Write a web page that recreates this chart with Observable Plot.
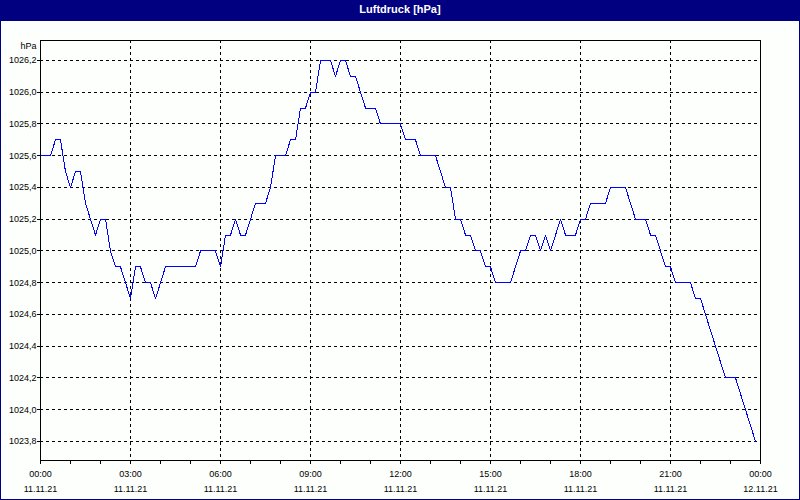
<!DOCTYPE html>
<html>
<head>
<meta charset="utf-8">
<script src="https://cdn.jsdelivr.net/npm/d3@7"></script>
<script src="https://cdn.jsdelivr.net/npm/@observablehq/plot@0.6"></script>
<style>
  html, body { margin: 0; padding: 0; background: #fcfffc; }
  #wrap { position: relative; width: 800px; height: 500px; background: #fcfffc; overflow: hidden; }
  #title { position: absolute; left: 0; top: 0; width: 800px; height: 21px; background: #000080;
           color: #fff; font: bold 11px "Liberation Sans", Arial, sans-serif; text-align: center; line-height: 19px; }
  #chart { position: absolute; left: 0; top: 20px; }
  #border { position: absolute; left: 0; top: 0; width: 800px; height: 500px; box-sizing: border-box;
            border: 1px solid #000080; pointer-events: none; }
</style>
</head>
<body>
<div id="wrap">
  <div id="title">Luftdruck [hPa]</div>
  <div id="chart"></div>
  <div id="border"></div>
</div>
<script>
// ---- data (10-minute readings, 11.11.21 00:00 – 23:50) ----
const startTime = "2021-11-11T00:00:00Z";
const stepMinutes = 10;
const pressure = [
  1025.6, 1025.6, 1025.6, 1025.7, 1025.7, 1025.5, 1025.4, 1025.5, 1025.5, 1025.3, 1025.2, 1025.1,
  1025.2, 1025.2, 1025.0, 1024.9, 1024.9, 1024.8, 1024.7, 1024.9, 1024.9, 1024.8, 1024.8, 1024.7,
  1024.8, 1024.9, 1024.9, 1024.9, 1024.9, 1024.9, 1024.9, 1024.9, 1025.0, 1025.0, 1025.0, 1025.0,
  1024.9, 1025.1, 1025.1, 1025.2, 1025.1, 1025.1, 1025.2, 1025.3, 1025.3, 1025.3, 1025.4, 1025.6,
  1025.6, 1025.6, 1025.7, 1025.7, 1025.9, 1025.9, 1026.0, 1026.0, 1026.2, 1026.2, 1026.2, 1026.1,
  1026.2, 1026.2, 1026.1, 1026.1, 1026.0, 1025.9, 1025.9, 1025.9, 1025.8, 1025.8, 1025.8, 1025.8,
  1025.8, 1025.7, 1025.7, 1025.7, 1025.6, 1025.6, 1025.6, 1025.6, 1025.5, 1025.4, 1025.4, 1025.2,
  1025.2, 1025.1, 1025.1, 1025.0, 1025.0, 1024.9, 1024.9, 1024.8, 1024.8, 1024.8, 1024.8, 1024.9,
  1025.0, 1025.0, 1025.1, 1025.1, 1025.0, 1025.1, 1025.0, 1025.1, 1025.2, 1025.1, 1025.1, 1025.1,
  1025.2, 1025.2, 1025.3, 1025.3, 1025.3, 1025.3, 1025.4, 1025.4, 1025.4, 1025.4, 1025.3, 1025.2,
  1025.2, 1025.2, 1025.1, 1025.1, 1025.0, 1024.9, 1024.9, 1024.8, 1024.8, 1024.8, 1024.8, 1024.7,
  1024.7, 1024.6, 1024.5, 1024.4, 1024.3, 1024.2, 1024.2, 1024.2, 1024.1, 1024.0, 1023.9, 1023.8
];
const yTickValues = [1023.8, 1024.0, 1024.2, 1024.4, 1024.6, 1024.8, 1025.0, 1025.2, 1025.4, 1025.6, 1025.8, 1026.0, 1026.2];
const xDomain = ["2021-11-11T00:00:00Z", "2021-11-12T00:00:00Z"];
const xMajorTicks = ["2021-11-11T00:00:00Z", "2021-11-11T03:00:00Z", "2021-11-11T06:00:00Z", "2021-11-11T09:00:00Z",
  "2021-11-11T12:00:00Z", "2021-11-11T15:00:00Z", "2021-11-11T18:00:00Z", "2021-11-11T21:00:00Z", "2021-11-12T00:00:00Z"];
const yUnit = "hPa";

// ---- build ----
const t0 = new Date(startTime);
const data = pressure.map((v, i) => ({ time: new Date(+t0 + i * stepMinutes * 60000), value: v }));
const majors = xMajorTicks.map(d => new Date(d));
const hours = d3.utcHour.range(new Date(xDomain[0]), d3.utcHour.offset(new Date(xDomain[1]), 1));
const innerMajors = majors.slice(1, -1);
const fmtY = d => d3.format(".1f")(d).replace(".", ",");
const fmtTime = d3.utcFormat("%H:%M");
const fmtDate = d3.utcFormat("%d.%m.%y");
const font = "Liberation Sans, Arial, sans-serif";

const chart = Plot.plot({
  width: 800,
  height: 480,
  marginTop: 20,
  marginBottom: 40,
  marginLeft: 40,
  marginRight: 40,
  style: { fontFamily: font, fontSize: "9px", background: "transparent", color: "black", overflow: "visible" },
  x: { type: "utc", domain: xDomain.map(d => new Date(d)), axis: null },
  y: { domain: [1023.68, 1026.326], axis: null },
  marks: [
    Plot.ruleY(yTickValues, { stroke: "black", strokeDasharray: "3,3", shapeRendering: "crispEdges" }),
    Plot.ruleX(innerMajors, { stroke: "black", strokeDasharray: "3,3", shapeRendering: "crispEdges" }),
    Plot.line(data, { x: "time", y: "value", stroke: "#0000ff", strokeWidth: 1, shapeRendering: "crispEdges" }),
    Plot.frame({ stroke: "black", shapeRendering: "crispEdges" }),
    Plot.axisY(yTickValues, { tickSize: 3, tickPadding: 1, tickFormat: fmtY, label: null, shapeRendering: "crispEdges", stroke: "black" }),
    Plot.axisX(hours, { tickSize: 4, tickFormat: () => "", label: null, stroke: "black", shapeRendering: "crispEdges" }),
    Plot.axisX(majors, { tickSize: 0, tickPadding: 10, tickFormat: fmtTime, label: null }),
    Plot.axisX(majors, { tickSize: 0, tickPadding: 25, tickFormat: fmtDate, label: null }),
    Plot.text([yUnit], { frameAnchor: "top-left", textAnchor: "end", lineAnchor: "bottom", dx: -4, dy: 8, text: d => d, fill: "black" })
  ]
});
document.getElementById("chart").appendChild(chart);
</script>
</body>
</html>
